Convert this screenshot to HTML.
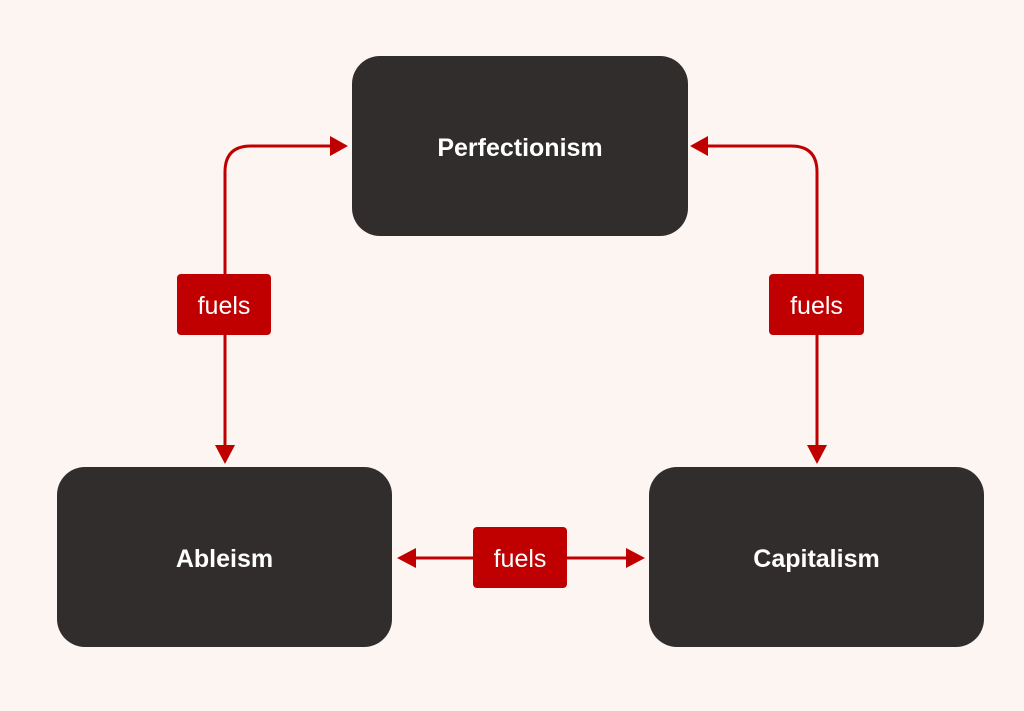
<!DOCTYPE html>
<html><head><style>
body{margin:0;width:1024px;height:711px;background:#fcf5f1;overflow:hidden;font-family:"Liberation Sans",sans-serif}
.b{position:absolute;background:#322d2d;border-radius:28px;color:#fff;font-weight:bold;font-size:25px;display:flex;align-items:center;justify-content:center;box-sizing:border-box;padding-top:4px}
.l{position:absolute;background:#c00000;border-radius:4px;color:#fff;font-size:25px;display:flex;align-items:center;justify-content:center;box-sizing:border-box;padding-top:4px}
</style></head><body>
<svg width="1024" height="711" style="position:absolute;left:0;top:0">
<g fill="none" stroke="#c00000" stroke-width="3">
<path d="M225 452 V172 Q225 146 251 146 H334"/>
<path d="M817 452 V172 Q817 146 791 146 H706"/>
<path d="M412 558 H630"/>
</g>
<g fill="#c00000">
<polygon points="348,146 330,136 330,156"/>
<polygon points="690,146 708,136 708,156"/>
<polygon points="225,464 215,445 235,445"/>
<polygon points="817,464 807,445 827,445"/>
<polygon points="397,558 416,548 416,568"/>
<polygon points="645,558 626,548 626,568"/>
</g>
</svg>
<div class="b" style="left:352px;top:56px;width:336px;height:180px">Perfectionism</div>
<div class="b" style="left:57px;top:467px;width:335px;height:180px">Ableism</div>
<div class="b" style="left:649px;top:467px;width:335px;height:180px">Capitalism</div>
<div class="l" style="left:177px;top:274px;width:94px;height:61px">fuels</div>
<div class="l" style="left:769px;top:274px;width:95px;height:61px">fuels</div>
<div class="l" style="left:473px;top:527px;width:94px;height:61px">fuels</div>
</body></html>
